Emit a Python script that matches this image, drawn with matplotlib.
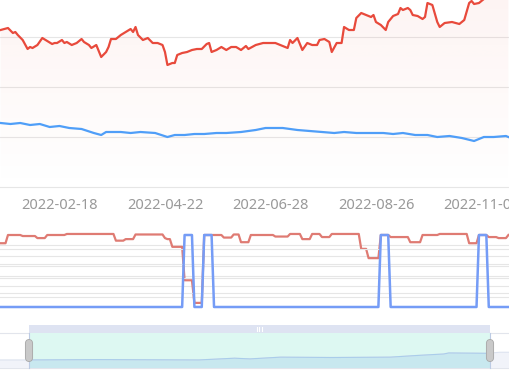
import matplotlib
matplotlib.use("Agg")
import matplotlib.pyplot as plt
import numpy as np
from matplotlib.patches import Rectangle

W, H = 510, 380
RED, BLUE = "#e84a3c", "#4f9ef8"
POS_RED, SIG_BLUE = "#df7b73", "#759cf6"
GRID = "#e6e6e6"
plt.rcParams.update({"font.family": ["Noto Sans", "DejaVu Sans"]})

# x axis: trading-day index, 0 = first day visible on the left
TICK_DAYS = [24, 67, 110, 153, 196]
TICK_LABELS = ["2022-02-18", "2022-04-22", "2022-06-28", "2022-08-26", "2022-11-03"]

# stock close (red), read at the turning points of the line
PRICE_DAYS = [0, 3, 5, 6, 7, 9, 11, 12, 13, 15, 17, 19, 21, 22, 23, 25, 26, 27, 29, 31,
              33, 34, 36, 37, 39, 41, 43, 44, 45, 47, 49, 51, 53, 54, 55, 56, 58, 60, 62,
              64, 66, 67, 68, 70, 71, 72, 74, 76, 78, 80, 82, 84, 85, 86, 88, 90, 92, 94,
              96, 98, 100, 101, 104, 107, 109, 112, 115, 117, 118, 119, 121, 123, 125,
              127, 129, 130, 132, 134, 135, 137, 139, 140, 142, 144, 145, 147, 149, 151,
              152, 153, 155, 157, 158, 160, 162, 163, 164, 166, 167, 168, 170, 172, 173,
              174, 176, 178, 179, 181, 184, 187, 189, 191, 192, 193, 195, 196, 198, 201,
              204, 207]
PRICE = [61.4, 61.8, 60.8, 61.0, 60.4, 59.4, 57.6, 58.0, 57.8, 58.4, 59.8, 59.2, 58.6,
         58.8, 58.8, 59.4, 58.8, 59.0, 58.4, 58.8, 59.6, 59.0, 58.4, 57.8, 58.4, 56.0,
         57.0, 58.0, 59.6, 59.6, 60.4, 61.0, 61.6, 61.0, 62.0, 60.4, 59.4, 59.8, 58.8,
         58.8, 58.4, 57.0, 54.4, 54.8, 54.8, 56.4, 56.8, 57.0, 57.4, 57.6, 57.6, 58.6,
         58.8, 57.0, 57.4, 58.0, 57.4, 58.0, 58.0, 57.4, 58.2, 57.6, 58.4, 58.8, 58.8,
         58.8, 58.2, 57.8, 59.4, 58.8, 59.8, 57.4, 58.8, 58.4, 58.4, 59.4, 59.6, 59.0,
         57.0, 58.8, 58.8, 62.0, 61.4, 61.4, 63.8, 64.8, 64.4, 64.0, 64.4, 63.0, 62.4,
         61.4, 63.0, 64.2, 64.6, 65.8, 65.4, 65.8, 65.4, 64.4, 64.2, 63.6, 64.0, 66.8,
         66.4, 63.0, 62.0, 62.8, 63.0, 62.6, 63.4, 66.8, 67.2, 66.6, 66.8, 67.2, 68.0,
         68.6, 69.0, 69.4]

# benchmark (blue)
BENCH_DAYS = [0, 4, 8, 12, 16, 20, 24, 28, 33, 38, 41, 43, 49, 53, 57, 63, 68, 71, 75,
              79, 83, 88, 92, 98, 104, 108, 115, 121, 126, 131, 136, 140, 145, 150, 156,
              160, 164, 169, 174, 178, 183, 188, 193, 197, 201, 206, 207]
BENCH = [42.8, 42.6, 42.8, 42.4, 42.6, 42.0, 42.2, 41.8, 41.6, 40.8, 40.4, 41.0, 41.0,
         40.8, 41.0, 40.8, 40.0, 40.4, 40.4, 40.6, 40.6, 40.8, 40.8, 41.0, 41.4, 41.8,
         41.8, 41.4, 41.2, 41.0, 40.8, 41.0, 40.8, 40.8, 40.8, 40.6, 40.8, 40.4, 40.4,
         40.0, 40.2, 39.8, 39.2, 40.0, 40.0, 40.2, 40.0]

# position level (red step line, lower panel): day a level starts, level
POS_START = [0, 3, 9, 15, 19, 27, 47, 51, 55, 67, 68, 70, 75, 79, 83, 91, 95, 98, 102,
             112, 118, 123, 127, 131, 135, 147, 150, 155, 159, 167, 172, 179, 191, 195,
             199, 203, 207]
POS_LEVEL = [6.2, 7.0, 6.9, 6.7, 7.0, 7.1, 6.45, 6.6, 7.05, 6.7, 6.6, 5.85, 2.6, 0.4,
             7.0, 6.75, 7.05, 6.3, 7.0, 6.85, 7.1, 6.6, 7.1, 6.8, 7.1, 5.65, 4.75, 7.0,
             6.8, 6.3, 7.0, 7.1, 6.2, 7.0, 6.8, 6.7, 7.0]

# trading signal (blue, lower panel): first and last day of each "on" period
SIGNAL_ON = [(75, 78), (83, 86), (155, 158), (195, 198)]
N_DAYS = 208

# data-zoom slider (percent of the full range) and its data shadow
ZOOM_START, ZOOM_END = 5.6, 96.0
SHADOW_PCT = [0, 5.5, 19.6, 39, 46, 49, 55, 65, 76.5, 82, 87, 88, 95.5, 98, 100]
SHADOW_VAL = [0.23, 0.23, 0.24, 0.23, 0.28, 0.26, 0.31, 0.30, 0.31, 0.36, 0.40, 0.43,
              0.42, 0.45, 0.45]


def fy(p):
    return 1 - p / H


fig = plt.figure(figsize=(W / 100, H / 100), dpi=100)
XLIM = (-0.25, 207.65)

# ---- upper panel: price + benchmark
ax1 = fig.add_axes([0, fy(190), 1, 190 / H])
ax1.set_xlim(*XLIM); ax1.set_ylim(29.4, 67.4)
for v in [30, 40, 50, 60]:
    ax1.axhline(v, color=GRID, lw=0.8, zorder=0)
fill = ax1.fill_between(PRICE_DAYS, PRICE, 29.4, color="none", lw=0)
grad = np.linspace(0, 1, 256).reshape(-1, 1)
cols = np.zeros((256, 1, 4))
cols[..., :3] = matplotlib.colors.to_rgb(RED)
cols[..., 3] = 0.065 * grad
img = ax1.imshow(cols, extent=[XLIM[0], XLIM[1], 29.4, 69.4], origin="lower",
                 aspect="auto", zorder=1)
img.set_clip_path(fill.get_paths()[0], transform=ax1.transData)
ax1.set_ylim(29.4, 67.4)
ax1.plot(PRICE_DAYS, PRICE, color=RED, lw=1.6, zorder=3, solid_joinstyle="round")
ax1.plot(BENCH_DAYS, BENCH, color=BLUE, lw=1.6, zorder=3, solid_joinstyle="round")
ax1.set_xticks(TICK_DAYS, TICK_LABELS)
ax1.set_yticks([])
ax1.tick_params(axis="x", length=0, pad=5.5, labelsize=10.5, labelcolor="#999999")
for s in ax1.spines.values():
    s.set_visible(False)
ax1.patch.set_visible(False)

# ---- lower panel: position level + signal
days = np.arange(N_DAYS)
level = np.array(POS_LEVEL)[np.searchsorted(POS_START, days, side="right") - 1]
signal = np.zeros(N_DAYS)
for a, b in SIGNAL_ON:
    signal[a:b + 1] = 1

ax2 = fig.add_axes([0, fy(310), 1, 88 / H])
ax2r = ax2.twinx()
ax2.set_xlim(*XLIM)
ax2.set_ylim(-3 / 72, 85 / 72)
ax2r.set_ylim(-3 / 72 * 7, 85 / 72 * 7)
for v in [1, 2, 3, 4, 5, 6]:
    ax2r.axhline(v, color=GRID, lw=0.8, zorder=0)
for v in [0.2, 0.4, 0.6, 0.8]:
    ax2.axhline(v, color=GRID, lw=0.8, zorder=0)
ax2r.plot(days, level, color=POS_RED, lw=1.6, solid_joinstyle="round")
ax2.plot(days, signal, color=SIG_BLUE, lw=1.8, solid_joinstyle="round")
ax2.set_zorder(2); ax2r.set_zorder(1)
ax2.patch.set_visible(False)
for a in (ax2, ax2r):
    a.set_xticks([]); a.set_yticks([])
    for s in a.spines.values():
        s.set_visible(False)

# ---- data zoom slider
ax3 = fig.add_axes([0, fy(372), 1, 52 / H])
ax3.set_xlim(0, 100); ax3.set_ylim(-4 / 35, 48 / 35)
ax3.axis("off")
ax3.add_patch(Rectangle((-1, 0), 102, 1, fc="white", ec="#e2e5ec", lw=0.8))
ax3.fill_between(SHADOW_PCT, SHADOW_VAL, 0, color="#f1f3f9", lw=0)
ax3.plot(SHADOW_PCT, SHADOW_VAL, color="#dde3ef", lw=0.8)
sel = Rectangle((ZOOM_START, 0), ZOOM_END - ZOOM_START, 1, fc="#ddf8f2", ec="none")
ax3.add_patch(sel)
inner = ax3.fill_between(SHADOW_PCT, SHADOW_VAL, 0, color="#c8e8ef", lw=0)
inner.set_clip_path(sel)
ln, = ax3.plot(SHADOW_PCT, SHADOW_VAL, color="#a9cdea", lw=0.8)
ln.set_clip_path(sel)
ax3.add_patch(Rectangle((ZOOM_START, 1), ZOOM_END - ZOOM_START, 8 / 35,
                        fc="#dee3f2", ec="none"))
for x in [50.3, 50.8, 51.3]:
    ax3.plot([x, x], [1.07, 1.16], color="white", lw=0.8)
for x in (ZOOM_START, ZOOM_END):
    ax3.plot([x, x], [0, 1], color="#bccbe4", lw=0.8)
    ax3.plot([x, x], [0.28, 0.72], color="#a8a8a8", lw=5.8, solid_capstyle="round")
    ax3.plot([x, x], [0.28, 0.72], color="#c9c9c9", lw=4.6, solid_capstyle="round")

fig.savefig("out.png", dpi=100)
